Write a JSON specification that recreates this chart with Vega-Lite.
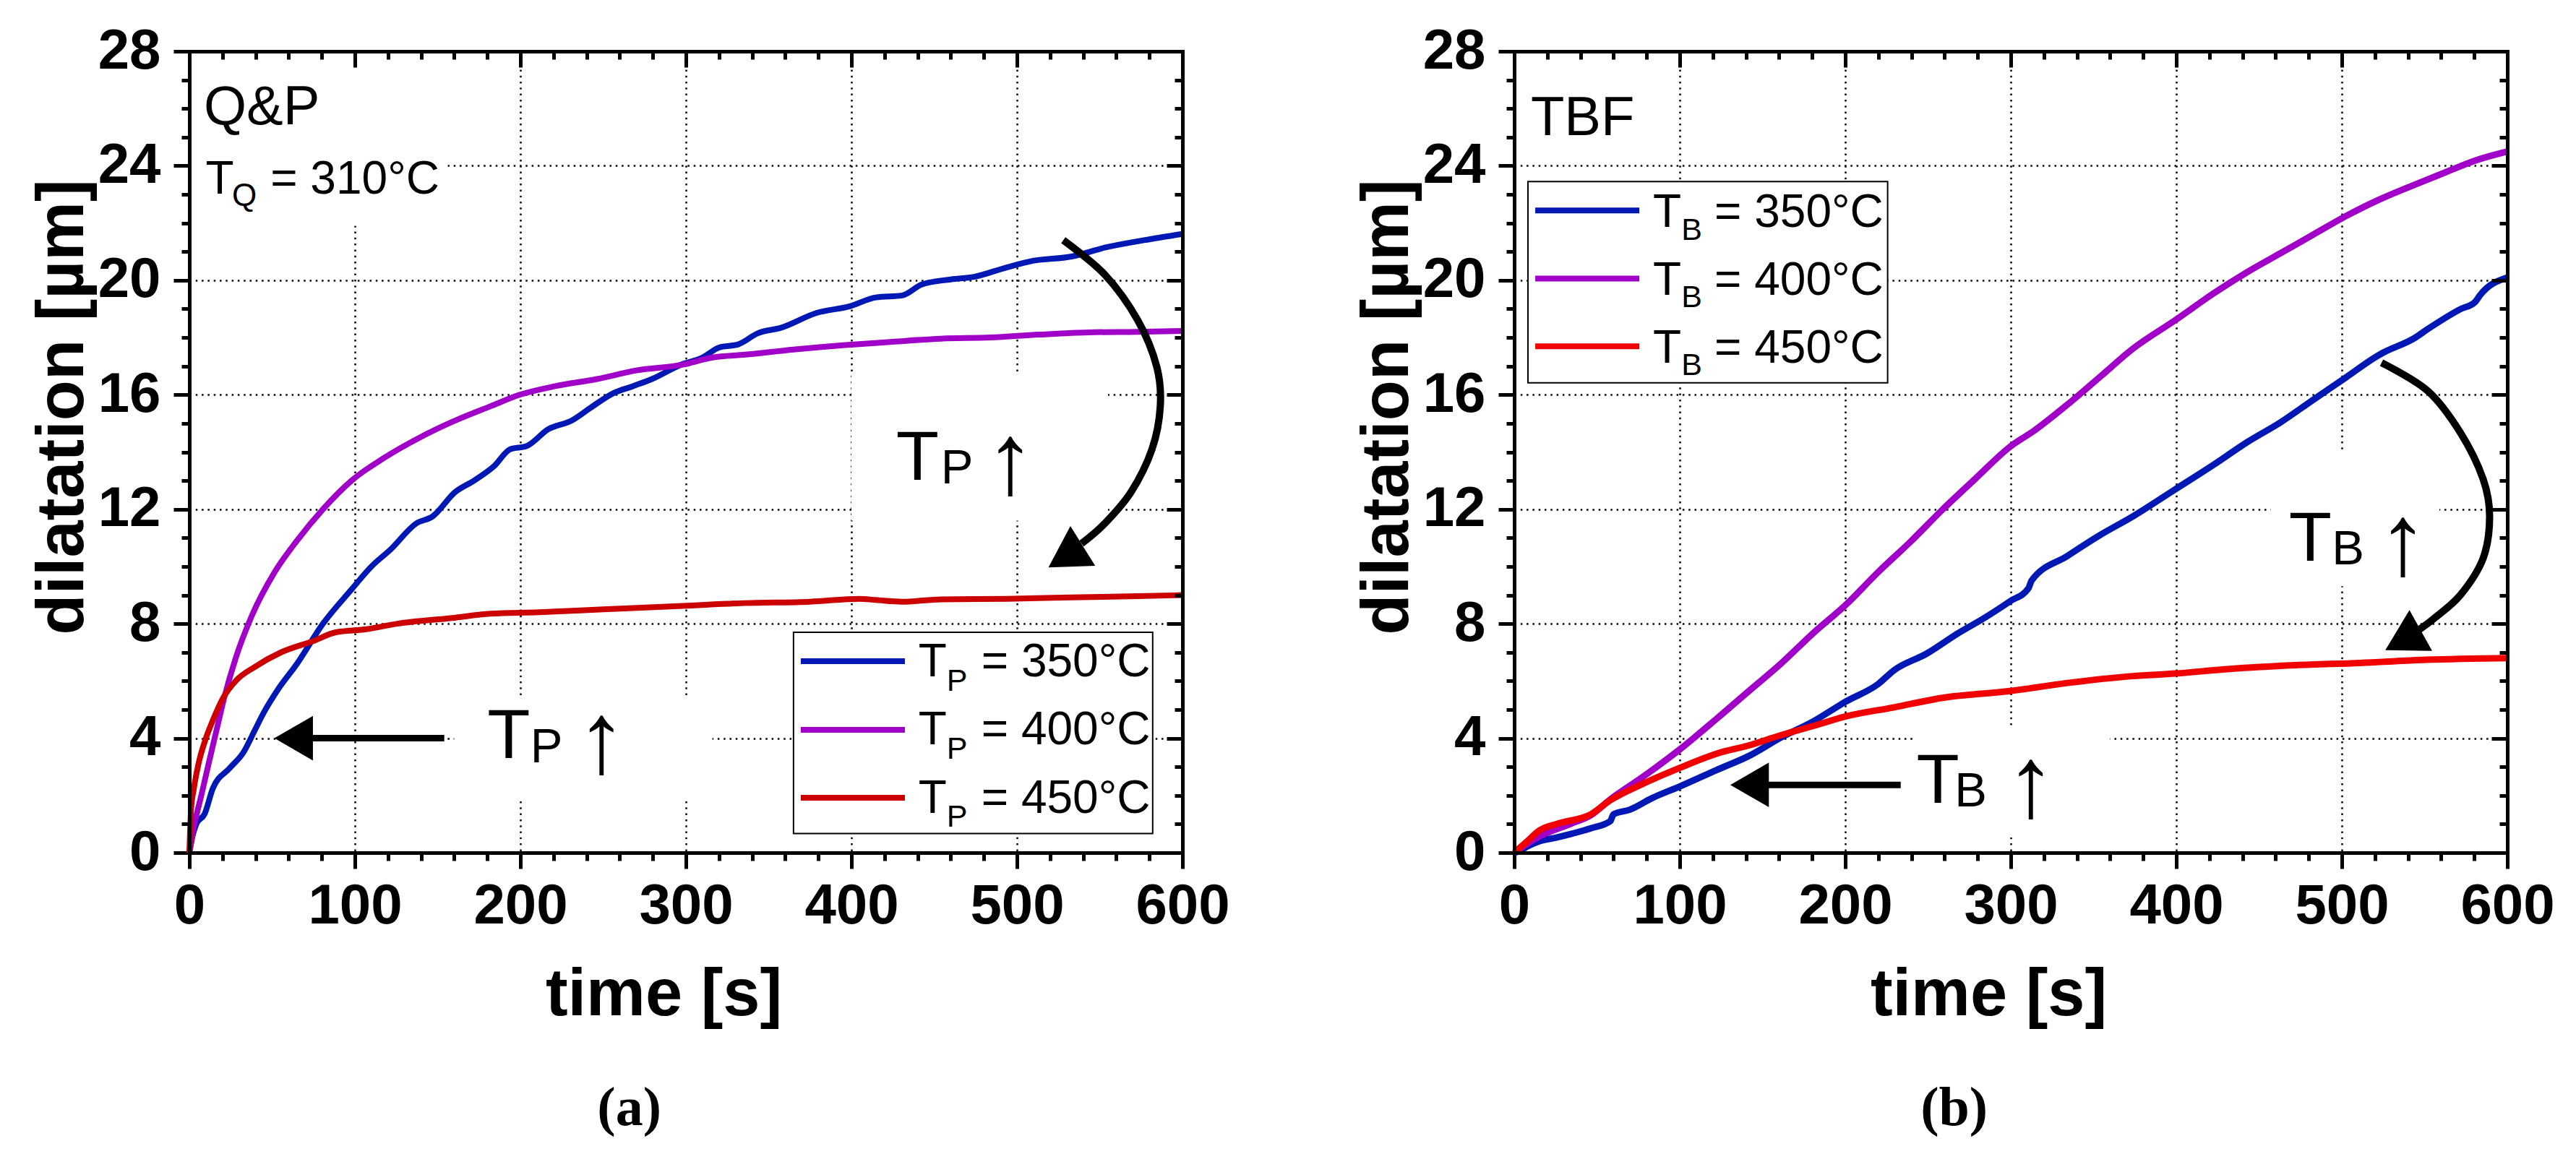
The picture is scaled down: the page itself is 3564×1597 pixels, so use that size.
{
  "$schema": "https://vega.github.io/schema/vega-lite/v6.json",
  "background": "white",
  "padding": {"left": 40, "top": 32, "right": 5, "bottom": 5},
  "spacing": 171,
  "config": {"view": {"stroke": null}, "font": "Liberation Sans"},
  "datasets": {
    "qp": [
      {"series": 350, "time": 0, "dilatation": 0}, {"series": 350, "time": 2, "dilatation": 0.6}, {"series": 350, "time": 4.2, "dilatation": 1.0}, {"series": 350, "time": 9.2, "dilatation": 1.35}, {"series": 350, "time": 14.2, "dilatation": 2.25}, {"series": 350, "time": 24.3, "dilatation": 2.95}, {"series": 350, "time": 32.6, "dilatation": 3.5}, {"series": 350, "time": 39.3, "dilatation": 4.25}, {"series": 350, "time": 45, "dilatation": 4.9}, {"series": 350, "time": 53.5, "dilatation": 5.7}, {"series": 350, "time": 65, "dilatation": 6.6}, {"series": 350, "time": 80.7, "dilatation": 8.0}, {"series": 350, "time": 98, "dilatation": 9.2}, {"series": 350, "time": 110, "dilatation": 10.0}, {"series": 350, "time": 121.7, "dilatation": 10.6}, {"series": 350, "time": 137, "dilatation": 11.5}, {"series": 350, "time": 147, "dilatation": 11.75}, {"series": 350, "time": 160.6, "dilatation": 12.6}, {"series": 350, "time": 172, "dilatation": 13.0}, {"series": 350, "time": 184, "dilatation": 13.5}, {"series": 350, "time": 194, "dilatation": 14.1}, {"series": 350, "time": 203.5, "dilatation": 14.2}, {"series": 350, "time": 217, "dilatation": 14.8}, {"series": 350, "time": 231, "dilatation": 15.1}, {"series": 350, "time": 242.5, "dilatation": 15.55}, {"series": 350, "time": 256, "dilatation": 16.05}, {"series": 350, "time": 268, "dilatation": 16.3}, {"series": 350, "time": 279.5, "dilatation": 16.55}, {"series": 350, "time": 297, "dilatation": 17.05}, {"series": 350, "time": 310, "dilatation": 17.3}, {"series": 350, "time": 320, "dilatation": 17.65}, {"series": 350, "time": 331.6, "dilatation": 17.76}, {"series": 350, "time": 343.5, "dilatation": 18.15}, {"series": 350, "time": 357.4, "dilatation": 18.34}, {"series": 350, "time": 379, "dilatation": 18.86}, {"series": 350, "time": 399, "dilatation": 19.09}, {"series": 350, "time": 414.7, "dilatation": 19.4}, {"series": 350, "time": 430.6, "dilatation": 19.47}, {"series": 350, "time": 442.4, "dilatation": 19.85}, {"series": 350, "time": 460, "dilatation": 20.03}, {"series": 350, "time": 474, "dilatation": 20.12}, {"series": 350, "time": 493.8, "dilatation": 20.45}, {"series": 350, "time": 509.6, "dilatation": 20.68}, {"series": 350, "time": 533, "dilatation": 20.83}, {"series": 350, "time": 553, "dilatation": 21.14}, {"series": 350, "time": 576.7, "dilatation": 21.4}, {"series": 350, "time": 600, "dilatation": 21.62},
      {"series": 400, "time": 0, "dilatation": 0}, {"series": 400, "time": 2.6, "dilatation": 0.85}, {"series": 400, "time": 7.6, "dilatation": 2.1}, {"series": 400, "time": 12, "dilatation": 3.2}, {"series": 400, "time": 16.5, "dilatation": 4.3}, {"series": 400, "time": 21, "dilatation": 5.4}, {"series": 400, "time": 28, "dilatation": 6.8}, {"series": 400, "time": 37.9, "dilatation": 8.3}, {"series": 400, "time": 51.5, "dilatation": 9.8}, {"series": 400, "time": 65, "dilatation": 10.9}, {"series": 400, "time": 80.7, "dilatation": 12.0}, {"series": 400, "time": 98, "dilatation": 13.0}, {"series": 400, "time": 117.8, "dilatation": 13.8}, {"series": 400, "time": 139, "dilatation": 14.5}, {"series": 400, "time": 158.7, "dilatation": 15.05}, {"series": 400, "time": 182, "dilatation": 15.6}, {"series": 400, "time": 199.6, "dilatation": 16.0}, {"series": 400, "time": 221, "dilatation": 16.3}, {"series": 400, "time": 246.4, "dilatation": 16.55}, {"series": 400, "time": 270, "dilatation": 16.85}, {"series": 400, "time": 298, "dilatation": 17.05}, {"series": 400, "time": 316, "dilatation": 17.3}, {"series": 400, "time": 335.6, "dilatation": 17.4}, {"series": 400, "time": 365, "dilatation": 17.58}, {"series": 400, "time": 395, "dilatation": 17.73}, {"series": 400, "time": 424.6, "dilatation": 17.85}, {"series": 400, "time": 454, "dilatation": 17.96}, {"series": 400, "time": 483.9, "dilatation": 18.0}, {"series": 400, "time": 513, "dilatation": 18.1}, {"series": 400, "time": 543, "dilatation": 18.18}, {"series": 400, "time": 572.9, "dilatation": 18.2}, {"series": 400, "time": 600, "dilatation": 18.23},
      {"series": 450, "time": 0, "dilatation": 0}, {"series": 450, "time": 1, "dilatation": 1.5}, {"series": 450, "time": 2.6, "dilatation": 2.2}, {"series": 450, "time": 5.5, "dilatation": 3.1}, {"series": 450, "time": 10, "dilatation": 4.0}, {"series": 450, "time": 14, "dilatation": 4.6}, {"series": 450, "time": 20.3, "dilatation": 5.4}, {"series": 450, "time": 28, "dilatation": 6.0}, {"series": 450, "time": 39.8, "dilatation": 6.5}, {"series": 450, "time": 55.4, "dilatation": 7.0}, {"series": 450, "time": 75, "dilatation": 7.4}, {"series": 450, "time": 88.5, "dilatation": 7.7}, {"series": 450, "time": 106, "dilatation": 7.8}, {"series": 450, "time": 125.7, "dilatation": 8.0}, {"series": 450, "time": 158.7, "dilatation": 8.2}, {"series": 450, "time": 182, "dilatation": 8.35}, {"series": 450, "time": 211, "dilatation": 8.4}, {"series": 450, "time": 250, "dilatation": 8.5}, {"series": 450, "time": 298, "dilatation": 8.62}, {"series": 450, "time": 335.6, "dilatation": 8.72}, {"series": 450, "time": 375, "dilatation": 8.77}, {"series": 450, "time": 404.8, "dilatation": 8.87}, {"series": 450, "time": 414.7, "dilatation": 8.83}, {"series": 450, "time": 430.6, "dilatation": 8.77}, {"series": 450, "time": 454, "dilatation": 8.85}, {"series": 450, "time": 493.8, "dilatation": 8.87}, {"series": 450, "time": 533, "dilatation": 8.92}, {"series": 450, "time": 572.9, "dilatation": 8.96}, {"series": 450, "time": 600, "dilatation": 9.0}
    ],
    "tbf": [
      {"series": 350, "time": 0, "dilatation": 0}, {"series": 350, "time": 3, "dilatation": 0.05}, {"series": 350, "time": 7.3, "dilatation": 0.2}, {"series": 350, "time": 15.1, "dilatation": 0.4}, {"series": 350, "time": 24.9, "dilatation": 0.52}, {"series": 350, "time": 34.6, "dilatation": 0.66}, {"series": 350, "time": 46.3, "dilatation": 0.85}, {"series": 350, "time": 58, "dilatation": 1.1}, {"series": 350, "time": 60, "dilatation": 1.34}, {"series": 350, "time": 69.7, "dilatation": 1.5}, {"series": 350, "time": 83.4, "dilatation": 1.91}, {"series": 350, "time": 100.3, "dilatation": 2.32}, {"series": 350, "time": 122.3, "dilatation": 2.89}, {"series": 350, "time": 141.8, "dilatation": 3.38}, {"series": 350, "time": 161.4, "dilatation": 4.03}, {"series": 350, "time": 180.8, "dilatation": 4.59}, {"series": 350, "time": 200.3, "dilatation": 5.28}, {"series": 350, "time": 219.8, "dilatation": 5.89}, {"series": 350, "time": 229.6, "dilatation": 6.38}, {"series": 350, "time": 249, "dilatation": 6.95}, {"series": 350, "time": 268.5, "dilatation": 7.68}, {"series": 350, "time": 284, "dilatation": 8.2}, {"series": 350, "time": 299.7, "dilatation": 8.79}, {"series": 350, "time": 310.6, "dilatation": 9.23}, {"series": 350, "time": 312.6, "dilatation": 9.51}, {"series": 350, "time": 334.3, "dilatation": 10.37}, {"series": 350, "time": 354, "dilatation": 11.1}, {"series": 350, "time": 373.8, "dilatation": 11.75}, {"series": 350, "time": 399.5, "dilatation": 12.7}, {"series": 350, "time": 423, "dilatation": 13.57}, {"series": 350, "time": 443, "dilatation": 14.35}, {"series": 350, "time": 462.8, "dilatation": 15.03}, {"series": 350, "time": 482.6, "dilatation": 15.82}, {"series": 350, "time": 502.4, "dilatation": 16.6}, {"series": 350, "time": 520.2, "dilatation": 17.31}, {"series": 350, "time": 524, "dilatation": 17.44}, {"series": 350, "time": 543.9, "dilatation": 17.98}, {"series": 350, "time": 551.8, "dilatation": 18.29}, {"series": 350, "time": 571.6, "dilatation": 18.99}, {"series": 350, "time": 580.5, "dilatation": 19.24}, {"series": 350, "time": 583.5, "dilatation": 19.48}, {"series": 350, "time": 600, "dilatation": 20.1},
      {"series": 400, "time": 0, "dilatation": 0}, {"series": 400, "time": 15.1, "dilatation": 0.56}, {"series": 400, "time": 34.6, "dilatation": 1.02}, {"series": 400, "time": 46.3, "dilatation": 1.31}, {"series": 400, "time": 58, "dilatation": 1.86}, {"series": 400, "time": 77.5, "dilatation": 2.64}, {"series": 400, "time": 100.3, "dilatation": 3.62}, {"series": 400, "time": 122.3, "dilatation": 4.68}, {"series": 400, "time": 141.8, "dilatation": 5.65}, {"series": 400, "time": 161.4, "dilatation": 6.62}, {"series": 400, "time": 180.8, "dilatation": 7.68}, {"series": 400, "time": 200.3, "dilatation": 8.66}, {"series": 400, "time": 219.8, "dilatation": 9.8}, {"series": 400, "time": 239.3, "dilatation": 10.86}, {"series": 400, "time": 258.8, "dilatation": 11.99}, {"series": 400, "time": 278.3, "dilatation": 13.05}, {"series": 400, "time": 299.7, "dilatation": 14.19}, {"series": 400, "time": 314.5, "dilatation": 14.76}, {"series": 400, "time": 334.3, "dilatation": 15.66}, {"series": 400, "time": 354, "dilatation": 16.63}, {"series": 400, "time": 373.8, "dilatation": 17.61}, {"series": 400, "time": 399.5, "dilatation": 18.61}, {"series": 400, "time": 423, "dilatation": 19.56}, {"series": 400, "time": 443, "dilatation": 20.29}, {"series": 400, "time": 462.8, "dilatation": 20.94}, {"series": 400, "time": 482.6, "dilatation": 21.59}, {"series": 400, "time": 502.4, "dilatation": 22.24}, {"series": 400, "time": 522.2, "dilatation": 22.81}, {"series": 400, "time": 541.9, "dilatation": 23.29}, {"series": 400, "time": 561.7, "dilatation": 23.75}, {"series": 400, "time": 581.5, "dilatation": 24.2}, {"series": 400, "time": 600, "dilatation": 24.5},
      {"series": 450, "time": 0, "dilatation": 0}, {"series": 450, "time": 7.3, "dilatation": 0.37}, {"series": 450, "time": 15.1, "dilatation": 0.77}, {"series": 450, "time": 26.8, "dilatation": 1.02}, {"series": 450, "time": 46.3, "dilatation": 1.34}, {"series": 450, "time": 58, "dilatation": 1.83}, {"series": 450, "time": 77.5, "dilatation": 2.4}, {"series": 450, "time": 100.3, "dilatation": 2.97}, {"series": 450, "time": 122.3, "dilatation": 3.46}, {"series": 450, "time": 141.8, "dilatation": 3.75}, {"series": 450, "time": 161.4, "dilatation": 4.11}, {"series": 450, "time": 180.8, "dilatation": 4.43}, {"series": 450, "time": 200.3, "dilatation": 4.76}, {"series": 450, "time": 229.6, "dilatation": 5.08}, {"series": 450, "time": 258.8, "dilatation": 5.41}, {"series": 450, "time": 299.7, "dilatation": 5.65}, {"series": 450, "time": 334.3, "dilatation": 5.93}, {"series": 450, "time": 373.8, "dilatation": 6.17}, {"series": 450, "time": 399.5, "dilatation": 6.26}, {"series": 450, "time": 432.2, "dilatation": 6.42}, {"series": 450, "time": 472, "dilatation": 6.55}, {"series": 450, "time": 511, "dilatation": 6.63}, {"series": 450, "time": 550.8, "dilatation": 6.74}, {"series": 450, "time": 600, "dilatation": 6.8}
    ],
    "qpArrow": [
      {"time": 528, "dilatation": 21.4}, {"time": 553, "dilatation": 20.2}, {"time": 573, "dilatation": 18.6}, {"time": 584.5, "dilatation": 16.97}, {"time": 586.6, "dilatation": 15.6}, {"time": 581.6, "dilatation": 14.1}, {"time": 568.9, "dilatation": 12.6}, {"time": 553, "dilatation": 11.5}, {"time": 539, "dilatation": 10.8}
    ],
    "tbfArrow": [
      {"time": 524, "dilatation": 17.12}, {"time": 551.8, "dilatation": 16.14}, {"time": 571.6, "dilatation": 14.68}, {"time": 585.4, "dilatation": 13.05}, {"time": 589.3, "dilatation": 11.75}, {"time": 585.4, "dilatation": 10.29}, {"time": 571.6, "dilatation": 9.0}, {"time": 555.6, "dilatation": 8.18}, {"time": 543.8, "dilatation": 7.68}
    ]
  },
  "hconcat": [
    {
      "width": 1374,
      "height": 1109,
      "title": {"text": "(a)", "orient": "bottom", "anchor": "middle", "frame": "bounds", "font": "Liberation Serif", "fontSize": 76, "fontWeight": "bold", "color": "#000000", "offset": 75},
      "resolve": {"axis": {"x": "independent", "y": "independent"}},
      "layer": [
        {"data": {"values": [{}]}, "mark": {"type": "rect", "fill": "white", "strokeWidth": 0}, "encoding": {"x": {"datum": 1, "type": "quantitative", "axis": null}, "x2": {"datum": 156}, "y": {"datum": 21.9, "type": "quantitative", "axis": null}, "y2": {"datum": 27.9}}},
        {"data": {"values": [{}]}, "mark": {"type": "rect", "fill": "white", "strokeWidth": 0}, "encoding": {"x": {"datum": 160, "type": "quantitative", "axis": null}, "x2": {"datum": 316}, "y": {"datum": 1.86, "type": "quantitative", "axis": null}, "y2": {"datum": 5.47}}},
        {"data": {"values": [{}]}, "mark": {"type": "rect", "fill": "white", "strokeWidth": 0}, "encoding": {"x": {"datum": 400, "type": "quantitative", "axis": null}, "x2": {"datum": 555}, "y": {"datum": 11.6, "type": "quantitative", "axis": null}, "y2": {"datum": 16.8}}},
        {
          "data": {"name": "qp"},
          "transform": [{"filter": "datum.series === 350"}],
          "mark": {"type": "line", "color": "#0018B4", "strokeWidth": 8, "interpolate": "monotone"},
          "encoding": {
            "x": {"field": "time", "type": "quantitative", "scale": {"domain": [0, 600], "nice": false},
              "axis": {"orient": "bottom", "values": [0, 100, 200, 300, 400, 500, 600], "grid": true, "gridColor": "#000000", "gridDash": [2.5, 5.8], "gridWidth": 2.5, "gridOpacity": 1, "domain": false, "tickColor": "#000000", "tickWidth": 5, "tickSize": 22, "labelFont": "Liberation Sans", "labelFontWeight": "bold", "labelFontSize": 78, "labelColor": "#000000", "labelPadding": 13, "labelFlush": false, "labelOverlap": false, "title": "time [s]", "titleFont": "Liberation Sans", "titleFontWeight": "bold", "titleFontSize": 92, "titleColor": "#000000", "titlePadding": 38, "titleX": 656, "zindex": 0}},
            "y": {"field": "dilatation", "type": "quantitative", "scale": {"domain": [0, 28], "nice": false},
              "axis": {"orient": "left", "values": [0, 4, 8, 12, 16, 20, 24, 28], "grid": true, "gridColor": "#000000", "gridDash": [2.5, 5.8], "gridWidth": 2.5, "gridOpacity": 1, "domain": false, "tickColor": "#000000", "tickWidth": 5, "tickSize": 22, "labelFont": "Liberation Sans", "labelFontWeight": "bold", "labelFontSize": 78, "labelColor": "#000000", "labelPadding": 18, "labelFlush": false, "labelOverlap": false, "title": "dilatation [µm]", "titleFont": "Liberation Sans", "titleFontWeight": "bold", "titleFontSize": 92, "titleColor": "#000000", "titlePadding": 2, "titleY": 492, "zindex": 0}}
          }
        },
        {
          "data": {"name": "qp"},
          "transform": [{"filter": "datum.series === 400"}],
          "mark": {"type": "line", "color": "#A000C8", "strokeWidth": 8, "interpolate": "monotone"},
          "encoding": {
            "x": {"field": "time", "type": "quantitative",
              "axis": {"orient": "bottom", "values": [20, 40, 60, 80, 120, 140, 160, 180, 220, 240, 260, 280, 320, 340, 360, 380, 420, 440, 460, 480, 520, 540, 560, 580], "grid": false, "domain": true, "domainColor": "#000000", "domainWidth": 5, "domainCap": "square", "tickColor": "#000000", "tickWidth": 5, "tickSize": 11, "labels": false, "title": null, "zindex": 1}},
            "y": {"field": "dilatation", "type": "quantitative",
              "axis": {"orient": "left", "values": [1, 2, 3, 5, 6, 7, 9, 10, 11, 13, 14, 15, 17, 18, 19, 21, 22, 23, 25, 26, 27], "grid": false, "domain": true, "domainColor": "#000000", "domainWidth": 5, "domainCap": "square", "tickColor": "#000000", "tickWidth": 5, "tickSize": 11, "labels": false, "title": null, "zindex": 1}}
          }
        },
        {
          "data": {"name": "qp"},
          "transform": [{"filter": "datum.series === 450"}],
          "mark": {"type": "line", "color": "#CC0000", "strokeWidth": 8, "interpolate": "monotone"},
          "encoding": {
            "x": {"field": "time", "type": "quantitative",
              "axis": {"orient": "top", "values": [0, 100, 200, 300, 400, 500, 600], "grid": false, "domain": true, "domainColor": "#000000", "domainWidth": 5, "domainCap": "square", "tickColor": "#000000", "tickWidth": 5, "tickSize": -22, "labels": false, "title": null, "zindex": 1}},
            "y": {"field": "dilatation", "type": "quantitative",
              "axis": {"orient": "right", "values": [0, 4, 8, 12, 16, 20, 24, 28], "grid": false, "domain": true, "domainColor": "#000000", "domainWidth": 5, "domainCap": "square", "tickColor": "#000000", "tickWidth": 5, "tickSize": -22, "labels": false, "title": null, "zindex": 1}}
          }
        },
        {
          "data": {"name": "qpArrow"},
          "mark": {"type": "line", "color": "#000000", "strokeWidth": 10, "interpolate": "cardinal"},
          "encoding": {
            "order": {"value": null},
            "x": {"field": "time", "type": "quantitative",
              "axis": {"orient": "top", "values": [20, 40, 60, 80, 120, 140, 160, 180, 220, 240, 260, 280, 320, 340, 360, 380, 420, 440, 460, 480, 520, 540, 560, 580], "grid": false, "domain": false, "tickColor": "#000000", "tickWidth": 5, "tickSize": -11, "labels": false, "title": null, "zindex": 1}},
            "y": {"field": "dilatation", "type": "quantitative",
              "axis": {"orient": "right", "values": [1, 2, 3, 5, 6, 7, 9, 10, 11, 13, 14, 15, 17, 18, 19, 21, 22, 23, 25, 26, 27], "grid": false, "domain": false, "tickColor": "#000000", "tickWidth": 5, "tickSize": -11, "labels": false, "title": null, "zindex": 1}}
          }
        },
        {"data": {"values": [{}]}, "mark": {"type": "point", "shape": "triangle-up", "angle": 238, "size": 4200, "filled": true, "color": "#000000", "opacity": 1, "strokeWidth": 0}, "encoding": {"x": {"datum": 529.4, "type": "quantitative", "axis": null}, "y": {"datum": 10.34, "type": "quantitative", "axis": null}}},
        {"data": {"values": [{}]}, "mark": {"type": "rule", "color": "#000000", "strokeWidth": 9}, "encoding": {"x": {"datum": 62, "type": "quantitative", "axis": null}, "x2": {"datum": 154}, "y": {"datum": 4.0, "type": "quantitative", "axis": null}}},
        {"data": {"values": [{}]}, "mark": {"type": "point", "shape": "triangle-left", "size": 3800, "filled": true, "color": "#000000", "opacity": 1, "strokeWidth": 0}, "encoding": {"x": {"datum": 63, "type": "quantitative", "axis": null}, "y": {"datum": 4.0, "type": "quantitative", "axis": null}}},
        {"data": {"values": [{}]}, "mark": {"type": "text", "text": "T", "font": "Liberation Sans", "fontSize": 97, "align": "left", "baseline": "alphabetic", "color": "#000000"}, "encoding": {"x": {"datum": 180, "type": "quantitative", "axis": null}, "y": {"datum": 3.3, "type": "quantitative", "axis": null}}},
        {"data": {"values": [{}]}, "mark": {"type": "text", "text": "P", "font": "Liberation Sans", "fontSize": 67, "align": "left", "baseline": "alphabetic", "color": "#000000"}, "encoding": {"x": {"datum": 206, "type": "quantitative", "axis": null}, "y": {"datum": 3.16, "type": "quantitative", "axis": null}}},
        {"data": {"values": [{}]}, "mark": {"type": "text", "text": "↑", "font": "Liberation Sans", "fontSize": 140, "align": "center", "baseline": "alphabetic", "color": "#000000"}, "encoding": {"x": {"datum": 249, "type": "quantitative", "axis": null}, "y": {"datum": 2.8, "type": "quantitative", "axis": null}}},
        {"data": {"values": [{}]}, "mark": {"type": "text", "text": "T", "font": "Liberation Sans", "fontSize": 97, "align": "left", "baseline": "alphabetic", "color": "#000000"}, "encoding": {"x": {"datum": 427, "type": "quantitative", "axis": null}, "y": {"datum": 13.04, "type": "quantitative", "axis": null}}},
        {"data": {"values": [{}]}, "mark": {"type": "text", "text": "P", "font": "Liberation Sans", "fontSize": 67, "align": "left", "baseline": "alphabetic", "color": "#000000"}, "encoding": {"x": {"datum": 454, "type": "quantitative", "axis": null}, "y": {"datum": 12.89, "type": "quantitative", "axis": null}}},
        {"data": {"values": [{}]}, "mark": {"type": "text", "text": "↑", "font": "Liberation Sans", "fontSize": 140, "align": "center", "baseline": "alphabetic", "color": "#000000"}, "encoding": {"x": {"datum": 496, "type": "quantitative", "axis": null}, "y": {"datum": 12.54, "type": "quantitative", "axis": null}}},
        {"data": {"values": [{}]}, "mark": {"type": "text", "text": "Q&P", "font": "Liberation Sans", "fontSize": 76, "align": "left", "baseline": "alphabetic", "color": "#000000"}, "encoding": {"x": {"datum": 8.7, "type": "quantitative", "axis": null}, "y": {"datum": 25.45, "type": "quantitative", "axis": null}}},
        {"data": {"values": [{}]}, "mark": {"type": "text", "text": "T", "font": "Liberation Sans", "fontSize": 64, "align": "left", "baseline": "alphabetic", "color": "#000000"}, "encoding": {"x": {"datum": 9.8, "type": "quantitative", "axis": null}, "y": {"datum": 23.03, "type": "quantitative", "axis": null}}},
        {"data": {"values": [{}]}, "mark": {"type": "text", "text": "Q", "font": "Liberation Sans", "fontSize": 44, "align": "left", "baseline": "alphabetic", "color": "#000000"}, "encoding": {"x": {"datum": 25.8, "type": "quantitative", "axis": null}, "y": {"datum": 22.6, "type": "quantitative", "axis": null}}},
        {"data": {"values": [{}]}, "mark": {"type": "text", "text": "= 310°C", "font": "Liberation Sans", "fontSize": 64, "align": "left", "baseline": "alphabetic", "color": "#000000"}, "encoding": {"x": {"datum": 49, "type": "quantitative", "axis": null}, "y": {"datum": 23.03, "type": "quantitative", "axis": null}}},
        {"data": {"values": [{}]}, "mark": {"type": "rect", "fill": "white", "stroke": "#000000", "strokeWidth": 2}, "encoding": {"x": {"datum": 365, "type": "quantitative", "axis": null}, "x2": {"datum": 582}, "y": {"datum": 0.67, "type": "quantitative", "axis": null}, "y2": {"datum": 7.7}}},
        {"data": {"values": [{}]}, "mark": {"type": "rule", "color": "#0018B4", "strokeWidth": 8}, "encoding": {"x": {"datum": 369.4, "type": "quantitative", "axis": null}, "x2": {"datum": 432.3}, "y": {"datum": 6.69, "type": "quantitative", "axis": null}}},
        {"data": {"values": [{}]}, "mark": {"type": "rule", "color": "#A000C8", "strokeWidth": 8}, "encoding": {"x": {"datum": 369.4, "type": "quantitative", "axis": null}, "x2": {"datum": 432.3}, "y": {"datum": 4.29, "type": "quantitative", "axis": null}}},
        {"data": {"values": [{}]}, "mark": {"type": "rule", "color": "#CC0000", "strokeWidth": 8}, "encoding": {"x": {"datum": 369.4, "type": "quantitative", "axis": null}, "x2": {"datum": 432.3}, "y": {"datum": 1.92, "type": "quantitative", "axis": null}}},
        {"data": {"values": [{}]}, "mark": {"type": "text", "text": "T", "font": "Liberation Sans", "fontSize": 64, "align": "left", "baseline": "alphabetic", "color": "#000000"}, "encoding": {"x": {"datum": 440.5, "type": "quantitative", "axis": null}, "y": {"datum": 6.15, "type": "quantitative", "axis": null}}},
        {"data": {"values": [{}]}, "mark": {"type": "text", "text": "T", "font": "Liberation Sans", "fontSize": 64, "align": "left", "baseline": "alphabetic", "color": "#000000"}, "encoding": {"x": {"datum": 440.5, "type": "quantitative", "axis": null}, "y": {"datum": 3.78, "type": "quantitative", "axis": null}}},
        {"data": {"values": [{}]}, "mark": {"type": "text", "text": "T", "font": "Liberation Sans", "fontSize": 64, "align": "left", "baseline": "alphabetic", "color": "#000000"}, "encoding": {"x": {"datum": 440.5, "type": "quantitative", "axis": null}, "y": {"datum": 1.4, "type": "quantitative", "axis": null}}},
        {"data": {"values": [{}]}, "mark": {"type": "text", "text": "P", "font": "Liberation Sans", "fontSize": 43, "align": "left", "baseline": "alphabetic", "color": "#000000"}, "encoding": {"x": {"datum": 457.5, "type": "quantitative", "axis": null}, "y": {"datum": 5.65, "type": "quantitative", "axis": null}}},
        {"data": {"values": [{}]}, "mark": {"type": "text", "text": "P", "font": "Liberation Sans", "fontSize": 43, "align": "left", "baseline": "alphabetic", "color": "#000000"}, "encoding": {"x": {"datum": 457.5, "type": "quantitative", "axis": null}, "y": {"datum": 3.28, "type": "quantitative", "axis": null}}},
        {"data": {"values": [{}]}, "mark": {"type": "text", "text": "P", "font": "Liberation Sans", "fontSize": 43, "align": "left", "baseline": "alphabetic", "color": "#000000"}, "encoding": {"x": {"datum": 457.5, "type": "quantitative", "axis": null}, "y": {"datum": 0.9, "type": "quantitative", "axis": null}}},
        {"data": {"values": [{}]}, "mark": {"type": "text", "text": "= 350°C", "font": "Liberation Sans", "fontSize": 64, "align": "left", "baseline": "alphabetic", "color": "#000000"}, "encoding": {"x": {"datum": 478.5, "type": "quantitative", "axis": null}, "y": {"datum": 6.15, "type": "quantitative", "axis": null}}},
        {"data": {"values": [{}]}, "mark": {"type": "text", "text": "= 400°C", "font": "Liberation Sans", "fontSize": 64, "align": "left", "baseline": "alphabetic", "color": "#000000"}, "encoding": {"x": {"datum": 478.5, "type": "quantitative", "axis": null}, "y": {"datum": 3.78, "type": "quantitative", "axis": null}}},
        {"data": {"values": [{}]}, "mark": {"type": "text", "text": "= 450°C", "font": "Liberation Sans", "fontSize": 64, "align": "left", "baseline": "alphabetic", "color": "#000000"}, "encoding": {"x": {"datum": 478.5, "type": "quantitative", "axis": null}, "y": {"datum": 1.4, "type": "quantitative", "axis": null}}}
      ]
    },
    {
      "width": 1374,
      "height": 1109,
      "title": {"text": "(b)", "orient": "bottom", "anchor": "middle", "frame": "bounds", "font": "Liberation Serif", "fontSize": 76, "fontWeight": "bold", "color": "#000000", "offset": 75},
      "resolve": {"axis": {"x": "independent", "y": "independent"}},
      "layer": [
        {"data": {"values": [{}]}, "mark": {"type": "rect", "fill": "white", "strokeWidth": 0}, "encoding": {"x": {"datum": 242, "type": "quantitative", "axis": null}, "x2": {"datum": 360}, "y": {"datum": 0.53, "type": "quantitative", "axis": null}, "y2": {"datum": 4.43}}},
        {"data": {"values": [{}]}, "mark": {"type": "rect", "fill": "white", "strokeWidth": 0}, "encoding": {"x": {"datum": 457, "type": "quantitative", "axis": null}, "x2": {"datum": 559}, "y": {"datum": 9.31, "type": "quantitative", "axis": null}, "y2": {"datum": 14.03}}},
        {
          "data": {"name": "tbf"},
          "transform": [{"filter": "datum.series === 350"}],
          "mark": {"type": "line", "color": "#0018B4", "strokeWidth": 9, "interpolate": "monotone"},
          "encoding": {
            "x": {"field": "time", "type": "quantitative", "scale": {"domain": [0, 600], "nice": false},
              "axis": {"orient": "bottom", "values": [0, 100, 200, 300, 400, 500, 600], "grid": true, "gridColor": "#000000", "gridDash": [2.5, 5.8], "gridWidth": 2.5, "gridOpacity": 1, "domain": false, "tickColor": "#000000", "tickWidth": 5, "tickSize": 22, "labelFont": "Liberation Sans", "labelFontWeight": "bold", "labelFontSize": 78, "labelColor": "#000000", "labelPadding": 13, "labelFlush": false, "labelOverlap": false, "title": "time [s]", "titleFont": "Liberation Sans", "titleFontWeight": "bold", "titleFontSize": 92, "titleColor": "#000000", "titlePadding": 38, "titleX": 656, "zindex": 0}},
            "y": {"field": "dilatation", "type": "quantitative", "scale": {"domain": [0, 28], "nice": false},
              "axis": {"orient": "left", "values": [0, 4, 8, 12, 16, 20, 24, 28], "grid": true, "gridColor": "#000000", "gridDash": [2.5, 5.8], "gridWidth": 2.5, "gridOpacity": 1, "domain": false, "tickColor": "#000000", "tickWidth": 5, "tickSize": 22, "labelFont": "Liberation Sans", "labelFontWeight": "bold", "labelFontSize": 78, "labelColor": "#000000", "labelPadding": 18, "labelFlush": false, "labelOverlap": false, "title": "dilatation [µm]", "titleFont": "Liberation Sans", "titleFontWeight": "bold", "titleFontSize": 92, "titleColor": "#000000", "titlePadding": 2, "titleY": 492, "zindex": 0}}
          }
        },
        {
          "data": {"name": "tbf"},
          "transform": [{"filter": "datum.series === 400"}],
          "mark": {"type": "line", "color": "#A000C8", "strokeWidth": 9, "interpolate": "monotone"},
          "encoding": {
            "x": {"field": "time", "type": "quantitative",
              "axis": {"orient": "bottom", "values": [20, 40, 60, 80, 120, 140, 160, 180, 220, 240, 260, 280, 320, 340, 360, 380, 420, 440, 460, 480, 520, 540, 560, 580], "grid": false, "domain": true, "domainColor": "#000000", "domainWidth": 5, "domainCap": "square", "tickColor": "#000000", "tickWidth": 5, "tickSize": 11, "labels": false, "title": null, "zindex": 1}},
            "y": {"field": "dilatation", "type": "quantitative",
              "axis": {"orient": "left", "values": [1, 2, 3, 5, 6, 7, 9, 10, 11, 13, 14, 15, 17, 18, 19, 21, 22, 23, 25, 26, 27], "grid": false, "domain": true, "domainColor": "#000000", "domainWidth": 5, "domainCap": "square", "tickColor": "#000000", "tickWidth": 5, "tickSize": 11, "labels": false, "title": null, "zindex": 1}}
          }
        },
        {
          "data": {"name": "tbf"},
          "transform": [{"filter": "datum.series === 450"}],
          "mark": {"type": "line", "color": "#F00000", "strokeWidth": 9, "interpolate": "monotone"},
          "encoding": {
            "x": {"field": "time", "type": "quantitative",
              "axis": {"orient": "top", "values": [0, 100, 200, 300, 400, 500, 600], "grid": false, "domain": true, "domainColor": "#000000", "domainWidth": 5, "domainCap": "square", "tickColor": "#000000", "tickWidth": 5, "tickSize": -22, "labels": false, "title": null, "zindex": 1}},
            "y": {"field": "dilatation", "type": "quantitative",
              "axis": {"orient": "right", "values": [0, 4, 8, 12, 16, 20, 24, 28], "grid": false, "domain": true, "domainColor": "#000000", "domainWidth": 5, "domainCap": "square", "tickColor": "#000000", "tickWidth": 5, "tickSize": -22, "labels": false, "title": null, "zindex": 1}}
          }
        },
        {
          "data": {"name": "tbfArrow"},
          "mark": {"type": "line", "color": "#000000", "strokeWidth": 10, "interpolate": "cardinal"},
          "encoding": {
            "order": {"value": null},
            "x": {"field": "time", "type": "quantitative",
              "axis": {"orient": "top", "values": [20, 40, 60, 80, 120, 140, 160, 180, 220, 240, 260, 280, 320, 340, 360, 380, 420, 440, 460, 480, 520, 540, 560, 580], "grid": false, "domain": false, "tickColor": "#000000", "tickWidth": 5, "tickSize": -11, "labels": false, "title": null, "zindex": 1}},
            "y": {"field": "dilatation", "type": "quantitative",
              "axis": {"orient": "right", "values": [1, 2, 3, 5, 6, 7, 9, 10, 11, 13, 14, 15, 17, 18, 19, 21, 22, 23, 25, 26, 27], "grid": false, "domain": false, "tickColor": "#000000", "tickWidth": 5, "tickSize": -11, "labels": false, "title": null, "zindex": 1}}
          }
        },
        {"data": {"values": [{}]}, "mark": {"type": "point", "shape": "triangle-up", "angle": 241, "size": 4200, "filled": true, "color": "#000000", "opacity": 1, "strokeWidth": 0}, "encoding": {"x": {"datum": 537, "type": "quantitative", "axis": null}, "y": {"datum": 7.42, "type": "quantitative", "axis": null}}},
        {"data": {"values": [{}]}, "mark": {"type": "rule", "color": "#000000", "strokeWidth": 9}, "encoding": {"x": {"datum": 142, "type": "quantitative", "axis": null}, "x2": {"datum": 233.5}, "y": {"datum": 2.37, "type": "quantitative", "axis": null}}},
        {"data": {"values": [{}]}, "mark": {"type": "point", "shape": "triangle-left", "size": 3800, "filled": true, "color": "#000000", "opacity": 1, "strokeWidth": 0}, "encoding": {"x": {"datum": 142.2, "type": "quantitative", "axis": null}, "y": {"datum": 2.37, "type": "quantitative", "axis": null}}},
        {"data": {"values": [{}]}, "mark": {"type": "text", "text": "T", "font": "Liberation Sans", "fontSize": 97, "align": "left", "baseline": "alphabetic", "color": "#000000"}, "encoding": {"x": {"datum": 243, "type": "quantitative", "axis": null}, "y": {"datum": 1.75, "type": "quantitative", "axis": null}}},
        {"data": {"values": [{}]}, "mark": {"type": "text", "text": "B", "font": "Liberation Sans", "fontSize": 67, "align": "left", "baseline": "alphabetic", "color": "#000000"}, "encoding": {"x": {"datum": 266, "type": "quantitative", "axis": null}, "y": {"datum": 1.62, "type": "quantitative", "axis": null}}},
        {"data": {"values": [{}]}, "mark": {"type": "text", "text": "↑", "font": "Liberation Sans", "fontSize": 140, "align": "center", "baseline": "alphabetic", "color": "#000000"}, "encoding": {"x": {"datum": 312.1, "type": "quantitative", "axis": null}, "y": {"datum": 1.25, "type": "quantitative", "axis": null}}},
        {"data": {"values": [{}]}, "mark": {"type": "text", "text": "T", "font": "Liberation Sans", "fontSize": 97, "align": "left", "baseline": "alphabetic", "color": "#000000"}, "encoding": {"x": {"datum": 468, "type": "quantitative", "axis": null}, "y": {"datum": 10.21, "type": "quantitative", "axis": null}}},
        {"data": {"values": [{}]}, "mark": {"type": "text", "text": "B", "font": "Liberation Sans", "fontSize": 67, "align": "left", "baseline": "alphabetic", "color": "#000000"}, "encoding": {"x": {"datum": 494, "type": "quantitative", "axis": null}, "y": {"datum": 10.08, "type": "quantitative", "axis": null}}},
        {"data": {"values": [{}]}, "mark": {"type": "text", "text": "↑", "font": "Liberation Sans", "fontSize": 140, "align": "center", "baseline": "alphabetic", "color": "#000000"}, "encoding": {"x": {"datum": 536.9, "type": "quantitative", "axis": null}, "y": {"datum": 9.71, "type": "quantitative", "axis": null}}},
        {"data": {"values": [{}]}, "mark": {"type": "text", "text": "TBF", "font": "Liberation Sans", "fontSize": 76, "align": "left", "baseline": "alphabetic", "color": "#000000"}, "encoding": {"x": {"datum": 10, "type": "quantitative", "axis": null}, "y": {"datum": 25.08, "type": "quantitative", "axis": null}}},
        {"data": {"values": [{}]}, "mark": {"type": "rect", "fill": "white", "stroke": "#000000", "strokeWidth": 2}, "encoding": {"x": {"datum": 8.3, "type": "quantitative", "axis": null}, "x2": {"datum": 225.6}, "y": {"datum": 16.42, "type": "quantitative", "axis": null}, "y2": {"datum": 23.45}}},
        {"data": {"values": [{}]}, "mark": {"type": "rule", "color": "#0018B4", "strokeWidth": 8}, "encoding": {"x": {"datum": 12.7, "type": "quantitative", "axis": null}, "x2": {"datum": 75.6}, "y": {"datum": 22.44, "type": "quantitative", "axis": null}}},
        {"data": {"values": [{}]}, "mark": {"type": "rule", "color": "#A000C8", "strokeWidth": 8}, "encoding": {"x": {"datum": 12.7, "type": "quantitative", "axis": null}, "x2": {"datum": 75.6}, "y": {"datum": 20.06, "type": "quantitative", "axis": null}}},
        {"data": {"values": [{}]}, "mark": {"type": "rule", "color": "#F00000", "strokeWidth": 8}, "encoding": {"x": {"datum": 12.7, "type": "quantitative", "axis": null}, "x2": {"datum": 75.6}, "y": {"datum": 17.69, "type": "quantitative", "axis": null}}},
        {"data": {"values": [{}]}, "mark": {"type": "text", "text": "T", "font": "Liberation Sans", "fontSize": 64, "align": "left", "baseline": "alphabetic", "color": "#000000"}, "encoding": {"x": {"datum": 83.8, "type": "quantitative", "axis": null}, "y": {"datum": 21.87, "type": "quantitative", "axis": null}}},
        {"data": {"values": [{}]}, "mark": {"type": "text", "text": "T", "font": "Liberation Sans", "fontSize": 64, "align": "left", "baseline": "alphabetic", "color": "#000000"}, "encoding": {"x": {"datum": 83.8, "type": "quantitative", "axis": null}, "y": {"datum": 19.5, "type": "quantitative", "axis": null}}},
        {"data": {"values": [{}]}, "mark": {"type": "text", "text": "T", "font": "Liberation Sans", "fontSize": 64, "align": "left", "baseline": "alphabetic", "color": "#000000"}, "encoding": {"x": {"datum": 83.8, "type": "quantitative", "axis": null}, "y": {"datum": 17.13, "type": "quantitative", "axis": null}}},
        {"data": {"values": [{}]}, "mark": {"type": "text", "text": "B", "font": "Liberation Sans", "fontSize": 43, "align": "left", "baseline": "alphabetic", "color": "#000000"}, "encoding": {"x": {"datum": 101, "type": "quantitative", "axis": null}, "y": {"datum": 21.42, "type": "quantitative", "axis": null}}},
        {"data": {"values": [{}]}, "mark": {"type": "text", "text": "B", "font": "Liberation Sans", "fontSize": 43, "align": "left", "baseline": "alphabetic", "color": "#000000"}, "encoding": {"x": {"datum": 101, "type": "quantitative", "axis": null}, "y": {"datum": 19.05, "type": "quantitative", "axis": null}}},
        {"data": {"values": [{}]}, "mark": {"type": "text", "text": "B", "font": "Liberation Sans", "fontSize": 43, "align": "left", "baseline": "alphabetic", "color": "#000000"}, "encoding": {"x": {"datum": 101, "type": "quantitative", "axis": null}, "y": {"datum": 16.68, "type": "quantitative", "axis": null}}},
        {"data": {"values": [{}]}, "mark": {"type": "text", "text": "= 350°C", "font": "Liberation Sans", "fontSize": 64, "align": "left", "baseline": "alphabetic", "color": "#000000"}, "encoding": {"x": {"datum": 121, "type": "quantitative", "axis": null}, "y": {"datum": 21.87, "type": "quantitative", "axis": null}}},
        {"data": {"values": [{}]}, "mark": {"type": "text", "text": "= 400°C", "font": "Liberation Sans", "fontSize": 64, "align": "left", "baseline": "alphabetic", "color": "#000000"}, "encoding": {"x": {"datum": 121, "type": "quantitative", "axis": null}, "y": {"datum": 19.5, "type": "quantitative", "axis": null}}},
        {"data": {"values": [{}]}, "mark": {"type": "text", "text": "= 450°C", "font": "Liberation Sans", "fontSize": 64, "align": "left", "baseline": "alphabetic", "color": "#000000"}, "encoding": {"x": {"datum": 121, "type": "quantitative", "axis": null}, "y": {"datum": 17.13, "type": "quantitative", "axis": null}}}
      ]
    }
  ]
}
